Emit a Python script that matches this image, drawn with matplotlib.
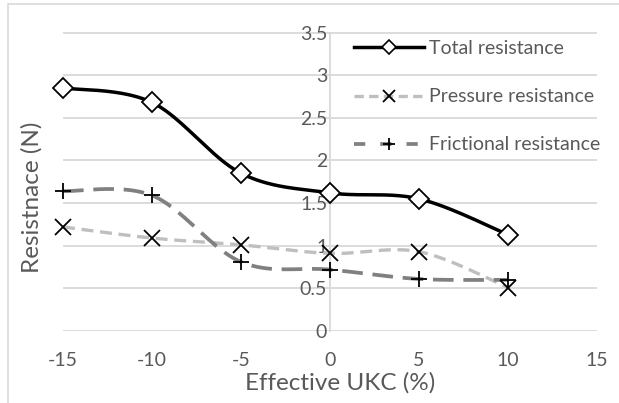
import numpy as np
import matplotlib
matplotlib.use("Agg")
import matplotlib.pyplot as plt
from matplotlib.patches import Rectangle

plt.rcParams['font.family'] = ['Lato', 'DejaVu Sans']

# Data
ukc = [-15, -10, -5, 0, 5, 10]
total_res = [2.85, 2.68, 1.85, 1.62, 1.55, 1.13]
pressure_res = [1.22, 1.09, 1.01, 0.91, 0.93, 0.51]
frictional_res = [1.64, 1.59, 0.81, 0.72, 0.61, 0.60]
series_labels = ["Total resistance", "Pressure resistance", "Frictional resistance"]
x_ticks = [-15, -10, -5, 0, 5, 10, 15]
y_ticks = [0, 0.5, 1, 1.5, 2, 2.5, 3, 3.5]

TEXT = "#595959"
GRID = "#D9D9D9"


def smooth(x, y, n=40):
    """Catmull-Rom style Bezier smoothing through the points."""
    p = np.column_stack([x, y]).astype(float)
    ext = np.vstack([p[0], p, p[-1]])
    out = []
    t = np.linspace(0, 1, n)
    for i in range(1, len(ext) - 2):
        p0, p1, p2, p3 = ext[i - 1], ext[i], ext[i + 1], ext[i + 2]
        c1 = p1 + (p2 - p0) / 6.0
        c2 = p2 - (p3 - p1) / 6.0
        seg = ((1 - t) ** 3)[:, None] * p1 + (3 * (1 - t) ** 2 * t)[:, None] * c1 \
            + (3 * (1 - t) * t ** 2)[:, None] * c2 + (t ** 3)[:, None] * p2
        out.append(seg if i == 1 else seg[1:])
    s = np.vstack(out)
    return s[:, 0], s[:, 1]


W, H = 619, 403
fig = plt.figure(figsize=(W / 100, H / 100), dpi=100)

# outer chart border
fig.patches.append(Rectangle((8 / W, -0.1), 1.2, 1 - 3.5 / H + 0.1, transform=fig.transFigure,
                             fill=False, edgecolor=GRID, linewidth=1.2))

left, right, top, bottom = 63, 597, 32.5, 331
ax = fig.add_axes([left / W, 1 - bottom / H, (right - left) / W, (bottom - top) / H])
ax.set_xlim(-15, 15)
ax.set_ylim(0, 3.5)
ax.set_facecolor("none")

for sp in ["top", "right", "bottom"]:
    ax.spines[sp].set_visible(False)
ax.spines["left"].set_position(("data", 0))
ax.spines["left"].set_color(GRID)
ax.spines["left"].set_linewidth(1.3)

ax.set_yticks(y_ticks)
ax.set_yticklabels([f"{v:g}" for v in y_ticks])
ax.set_xticks(x_ticks)
ax.set_xticklabels([f"{v:g}" for v in x_ticks])
ax.tick_params(axis="both", length=0, colors=TEXT, labelsize=14)
ax.tick_params(axis="x", pad=15)
ax.tick_params(axis="y", pad=2)
ax.grid(axis="y", color=GRID, linewidth=1.3)
ax.set_axisbelow(True)

# series
PRESS_DASH = (3.6, 2.0)
FRIC_DASH = (5.5, 2.6)
xs, ys = smooth(ukc, pressure_res)
ax.plot(xs, ys, color="#BFBFBF", linewidth=2.4, dashes=PRESS_DASH, zorder=3)
ax.plot(ukc, pressure_res, linestyle="none", marker="x", markersize=12,
        markeredgecolor="black", markeredgewidth=1.3, zorder=5, clip_on=False)

xs, ys = smooth(ukc, frictional_res)
ax.plot(xs, ys, color="#808080", linewidth=2.7, dashes=FRIC_DASH, zorder=3)
ax.plot(ukc, frictional_res, linestyle="none", marker="+", markersize=12,
        markeredgecolor="black", markeredgewidth=1.3, zorder=5, clip_on=False)

xs, ys = smooth(ukc, total_res)
ax.plot(xs, ys, color="black", linewidth=2.5, zorder=4, clip_on=False)
ax.plot(ukc, total_res, linestyle="none", marker="D", markersize=10,
        markerfacecolor="white", markeredgecolor="black", markeredgewidth=1.3,
        zorder=6, clip_on=False)

# legend proxies
h1, = ax.plot([], [], color="black", linewidth=2.5, marker="D", markersize=7,
              markerfacecolor="white", markeredgecolor="black", markeredgewidth=1.2)
h2, = ax.plot([], [], color="#BFBFBF", linewidth=2.4, dashes=(2.8, 1.6), marker="x",
              markersize=9, markeredgecolor="black", markeredgewidth=1.3)
h3, = ax.plot([], [], color="#808080", linewidth=2.7, dashes=(3, 4), marker="+",
              markersize=9, markeredgecolor="black", markeredgewidth=1.3)
leg = ax.legend([h1, h2, h3], series_labels, loc="upper left",
                bbox_to_anchor=((346 - left) / (right - left), 1.0),
                frameon=False, fontsize=14, handlelength=3.6, handletextpad=0.25,
                labelspacing=1.6, numpoints=1, borderaxespad=0)
for t in leg.get_texts():
    t.set_color(TEXT)

fig.text(340 / W, 1 - 383 / H, "Effective UKC (%)", ha="center", va="center",
         fontsize=17.5, color=TEXT)
fig.text(32 / W, 1 - 197 / H, "Resistnace (N)", ha="center", va="center",
         rotation=90, fontsize=17.5, color=TEXT)

fig.savefig("out.png", dpi=100)
